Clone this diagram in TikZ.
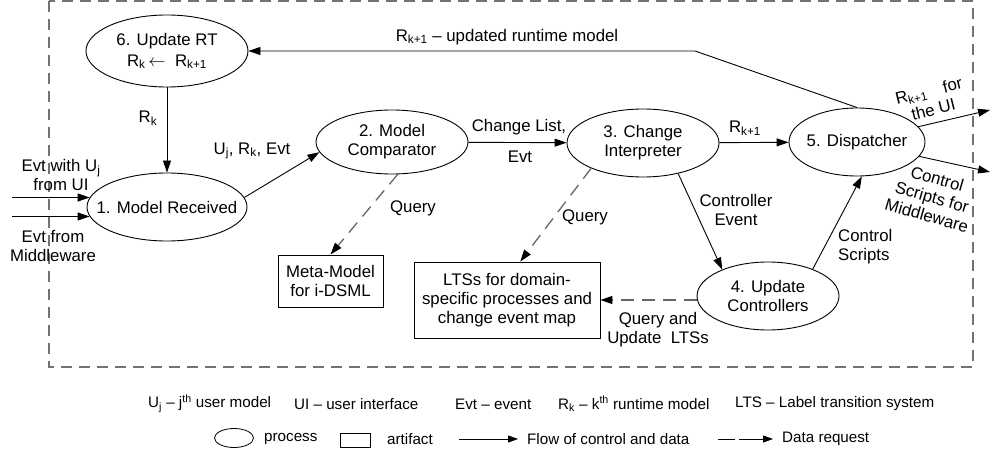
\documentclass[tikz,border=0pt]{standalone}
\usepackage{fontspec}
\setmainfont{Liberation Sans}
\usetikzlibrary{shapes.geometric,arrows.meta}
\begin{document}
\begin{tikzpicture}[x=1pt,y=-1pt,
  font=\fontsize{16.8}{19}\selectfont,
  proc/.style={draw,ellipse,inner sep=0pt,line width=0.9pt},
  art/.style={draw,rectangle,inner sep=0pt,line width=0.9pt,align=center},
  flow/.style={draw,line width=0.9pt,-{Triangle[length=12pt,width=8pt]}},
  req/.style={draw=black!60,line width=1.3pt,dash pattern=on 13pt off 8pt,-{Triangle[length=12pt,width=8pt,color=black]}},
  border/.style={draw=black!55,line width=1.3pt,dash pattern=on 11pt off 7pt},
  lbl/.style={align=center,inner sep=0pt},
  leg/.style={font=\fontsize{15.2}{17}\selectfont,anchor=west,inner sep=0pt}]
\useasboundingbox (0,0) rectangle (992,457);
% frame
\draw[border] (49,1) rectangle (973,367);
% processes
\node[proc,minimum width=162,minimum height=72] (n6) at (167,51) {};
\node[lbl] (t6) at (n6) {6. Update RT\\[2pt]R\textsubscript{k}\,$\leftarrow$\ \ R\textsubscript{k+1}};
\node[proc,minimum width=160,minimum height=68] (n1) at (167,207) {};
\node[lbl] (t1) at (n1) {1. Model Received};
\node[proc,minimum width=152,minimum height=64] (n2) at (392,142) {};
\node[lbl] (t2) at (n2) {2. Model\\Comparator};
\node[proc,minimum width=152,minimum height=68] (n3) at (643,143) {};
\node[lbl] (t3) at (n3) {3. Change\\Interpreter};
\node[proc,minimum width=136,minimum height=68] (n5) at (857,142) {};
\node[lbl] (t5) at (n5) {5. Dispatcher};
\node[proc,minimum width=142,minimum height=68] (n4) at (768,296) {};
\node[lbl] (t4) at (n4) {4. Update\\Controllers};
% artifacts
\node[art,minimum width=105,minimum height=52] (meta) at (330.5,281) {Meta-Model\\for i-DSML};
\node[art,minimum width=186,minimum height=76] (lts) at (507,300) {LTSs for domain-\\specific processes and\\change event map};
% coordinates
\coordinate (c6) at (695,51);
\coordinate (in0) at (12,0);
\coordinate (o1) at (990,110);
\coordinate (o2) at (990,172);
% flows
\draw[flow] (n6) -- (n1);
\draw[flow] (n5.north) -- (c6) -- (n6);
\draw[flow] (in0 |- n1.173) -- (n1.173);
\draw[flow] (in0 |- n1.187) -- (n1.187);
\draw[flow] (n1.7) -- (n2.188);
\draw[flow] (n2) -- (n3);
\draw[flow] (n3) -- (n5);
\draw[flow] (n3.-41) -- (n4.150);
\draw[flow] (n4.31) -- (n5.-82);
\draw[flow] (n5.14) -- (o1);
\draw[flow] (n5.-13) -- (o2);
% requests
\draw[req] (n2.-80) -- (meta.north);
\draw[req] (n3.206) -- (lts.71);
\draw[req] (n4.west |- lts.east) -- (lts.east);
% labels
\node[lbl] (lrk) at (148,118) {R\textsubscript{k}};
\node[lbl] (lupd) at (507,37) {R\textsubscript{k+1} -- updated runtime model};
\node[lbl] (lujr) at (252,151) {U\textsubscript{j}, R\textsubscript{k}, Evt};
\node[lbl] (lin1) at (61,175) {Evt with U\textsubscript{j}\\from UI};
\node[lbl] (lin2) at (53,246) {Evt from\\Middleware};
\node[lbl] (lcl) at (519,127) {Change List,};
\node[lbl] (levt) at (520,157) {Evt};
\node[lbl] (lrk1) at (745,128) {R\textsubscript{k+1}};
\node[lbl] (lce) at (736,210) {Controller\\Event};
\node[lbl,anchor=west,align=left] (lcs) at (838,247) {Control\\Scripts};
\node[lbl,rotate=14] (lui) at (931,100) {R\textsubscript{k+1}\quad for\\the UI};
\node[lbl,rotate=-16] (lmw) at (932,197) {Control\\Scripts for\\Middleware};
\node[lbl] (lq1) at (413,208) {Query};
\node[lbl] (lq2) at (585,217) {Query};
\node[lbl] (lqu) at (658,330) {Query and\\Update\ \ LTSs};
% legend row 1
\node[leg] (g1) at (148,404) {U\textsubscript{j} -- j\textsuperscript{th} user model};
\node[leg] (g2) at (294,404) {UI -- user interface};
\node[leg] (g3) at (455,404) {Evt -- event};
\node[leg] (g4) at (558,404) {R\textsubscript{k} -- k\textsuperscript{th} runtime model};
\node[leg] (g5) at (735,404) {LTS -- Label transition system};
% legend row 2
\node[draw,ellipse,line width=0.8pt,minimum width=39,minimum height=19,inner sep=0pt] (gp) at (234,438) {};
\node[leg] (gpt) at (264,439) {process};
\node[draw,line width=0.8pt,minimum width=30,minimum height=14,inner sep=0pt] (ga) at (355,440) {};
\node[leg] (gat) at (387,439) {artifact};
\coordinate (fa) at (459,439);
\coordinate (fb) at (518,439);
\draw[line width=0.8pt,-{Triangle[length=10pt,width=7pt]}] (fa) -- (fb);
\node[leg] (gft) at (527,439) {Flow of control and data};
\coordinate (da) at (718,439);
\coordinate (db) at (773,439);
\draw[line width=0.8pt,dash pattern=on 17pt off 4pt on 40pt,-{Triangle[length=10pt,width=7pt]}] (da) -- (db);
\node[leg] (gdt) at (782,439) {Data request};
\end{tikzpicture}
\end{document}
